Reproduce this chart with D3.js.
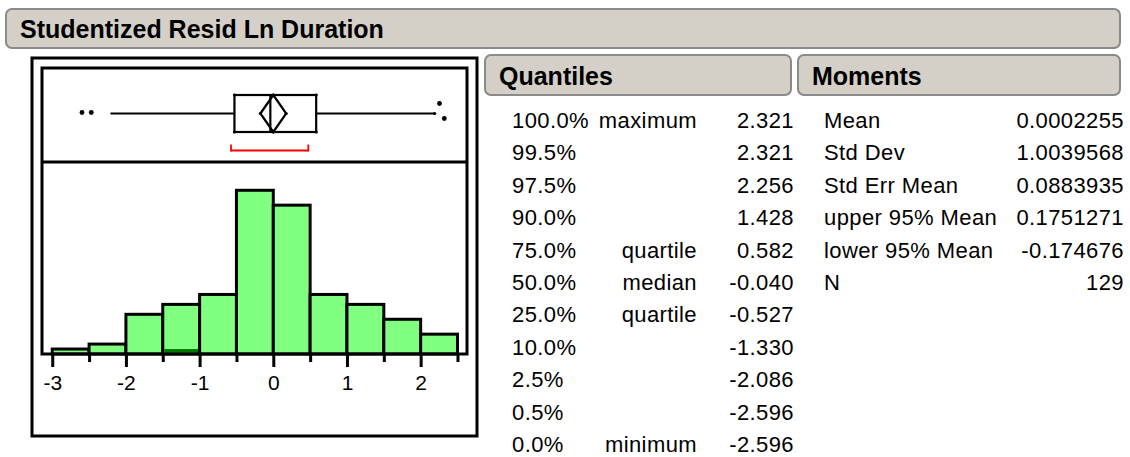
<!DOCTYPE html>
<html>
<head>
<meta charset="utf-8">
<script src="https://cdn.jsdelivr.net/npm/d3@7"></script>
<style>
  body { margin: 0; background: #fff; }
  svg text { font-family: "Liberation Sans", Arial, sans-serif; fill: #000; }
  .hdr { font-weight: bold; font-size: 25px; }
  .row { font-size: 22px; letter-spacing: 0.4px; }
  .axis text { font-size: 21px; }
</style>
</head>
<body>
<div id="chart"></div>
<script>
// histogram bins (left edges, width 0.5) and counts
var binStarts = [-3, -2.5, -2, -1.5, -1, -0.5, 0, 0.5, 1, 1.5, 2];
var binCounts = [1, 2, 8, 10, 12, 33, 30, 12, 10, 7, 4];
var selCounts = [0, 0, 0, 1, 0, 0, 0, 0, 0, 0, 0];
var majorTicks = [-3, -2, -1, 0, 1, 2];
var minorTicks = [-2.5, -1.5, -0.5, 0.5, 1.5, 2.5];

// outlier box plot
var q1 = -0.527, median = -0.040, q3 = 0.582;
var mean = 0.0002255, meanLo = -0.174676, meanHi = 0.1751271;
var whiskerLo = -2.21, whiskerHi = 2.19;
var outliersLo = [-2.596, -2.47];
var outliersHi = [2.256, 2.321];
var shortestHalf = [-0.574, 0.475];

// quantiles table
var qLevels = ["100.0%", "99.5%", "97.5%", "90.0%", "75.0%", "50.0%", "25.0%", "10.0%", "2.5%", "0.5%", "0.0%"];
var qNames = ["maximum", "", "", "", "quartile", "median", "quartile", "", "", "", "minimum"];
var qValues = ["2.321", "2.321", "2.256", "1.428", "0.582", "-0.040", "-0.527", "-1.330", "-2.086", "-2.596", "-2.596"];

// moments table
var mNames = ["Mean", "Std Dev", "Std Err Mean", "upper 95% Mean", "lower 95% Mean", "N"];
var mValues = ["0.0002255", "1.0039568", "0.0883935", "0.1751271", "-0.174676", "129"];

var W = 1130, H = 457;
var svg = d3.select("#chart").append("svg").attr("width", W).attr("height", H);

function header(x, y, w, h, label) {
  svg.append("rect")
    .attr("x", x).attr("y", y).attr("width", w).attr("height", h)
    .attr("rx", 6).attr("ry", 6)
    .attr("fill", "#d4d0c8").attr("stroke", "#8a8a8a").attr("stroke-width", 2);
  svg.append("text").attr("class", "hdr")
    .attr("x", x + 14).attr("y", y + h - 10)
    .text(label);
}

header(6, 9, 1114, 39, "Studentized Resid Ln Duration");
header(485, 55, 306, 40, "Quantiles");
header(798, 55, 322, 40, "Moments");

// plot frames
var inner = {left: 42, right: 467, top: 68, sep: 162, bottom: 354};

svg.append("rect")
  .attr("x", 32).attr("y", 58).attr("width", 445).attr("height", 378)
  .attr("fill", "none").attr("stroke", "#000").attr("stroke-width", 3);

var x = d3.scaleLinear().domain([-3.139, 2.629]).range([inner.left, inner.right]);
var y = d3.scaleLinear().domain([0, 38.7]).range([inner.bottom, inner.sep]);

// histogram bars
var bars = svg.append("g");
bars.selectAll("rect.bar")
  .data(binStarts)
  .enter().append("rect")
  .attr("class", "bar")
  .attr("x", function(d) { return x(d); })
  .attr("width", function(d) { return x(d + 0.5) - x(d); })
  .attr("y", function(d, i) { return y(binCounts[i]); })
  .attr("height", function(d, i) { return y(0) - y(binCounts[i]); })
  .attr("fill", "#80ff80")
  .attr("stroke", "#000")
  .attr("stroke-width", 3);

bars.selectAll("rect.sel")
  .data(binStarts.filter(function(d, i) { return selCounts[i] > 0; }))
  .enter().append("rect")
  .attr("class", "sel")
  .attr("x", function(d) { return x(d) + 1.5; })
  .attr("width", function(d) { return x(d + 0.5) - x(d) - 3; })
  .attr("y", function(d) { return y(selCounts[binStarts.indexOf(d)]); })
  .attr("height", function(d) { return y(0) - y(selCounts[binStarts.indexOf(d)]); })
  .attr("fill", "#007800");

// inner frame + separator
svg.append("rect")
  .attr("x", inner.left).attr("y", inner.top)
  .attr("width", inner.right - inner.left).attr("height", inner.bottom - inner.top)
  .attr("fill", "none").attr("stroke", "#000").attr("stroke-width", 3);
svg.append("line")
  .attr("x1", inner.left).attr("x2", inner.right)
  .attr("y1", inner.sep).attr("y2", inner.sep)
  .attr("stroke", "#000").attr("stroke-width", 3);

// axis
var axMajor = svg.append("g").attr("class", "axis")
  .attr("transform", "translate(0," + inner.bottom + ")")
  .call(d3.axisBottom(x).tickValues(majorTicks).tickSize(13).tickPadding(8).tickFormat(d3.format("d")));
var axMinor = svg.append("g").attr("class", "axis")
  .attr("transform", "translate(0," + inner.bottom + ")")
  .call(d3.axisBottom(x).tickValues(minorTicks).tickSize(8).tickFormat(""));
svg.selectAll(".axis .domain").remove();
svg.selectAll(".axis line").attr("stroke", "#000").attr("stroke-width", 3);
axMajor.selectAll("text").attr("fill", "#000").attr("font-family", null).attr("font-size", null)
  .text(function(d) { return d < 0 ? "-" + Math.abs(d) : d; });

// box plot
var by = {top: 95, mid: 113.5, bot: 132, bracket: 150.5};
var box = svg.append("g").attr("stroke", "#000").attr("stroke-width", 2.2).attr("fill", "none");

box.append("line").attr("x1", x(whiskerLo)).attr("x2", x(q1)).attr("y1", by.mid).attr("y2", by.mid);
box.append("line").attr("x1", x(q3)).attr("x2", x(whiskerHi)).attr("y1", by.mid).attr("y2", by.mid);
box.append("rect").attr("x", x(q1)).attr("y", by.top).attr("width", x(q3) - x(q1)).attr("height", by.bot - by.top);
box.append("line").attr("x1", x(median)).attr("x2", x(median)).attr("y1", by.top).attr("y2", by.bot);
box.append("path")
  .attr("d", "M" + x(meanLo) + "," + by.mid + "L" + x(mean) + "," + by.top +
             "L" + x(meanHi) + "," + by.mid + "L" + x(mean) + "," + by.bot + "Z");

// little corner dots
var dots = [[x(q1), by.top], [x(q3), by.top], [x(q1), by.bot], [x(q3), by.bot],
            [x(meanLo), by.mid], [x(meanHi), by.mid], [x(mean), by.top], [x(mean), by.bot],
            [x(whiskerHi), by.mid]];
svg.append("g").selectAll("circle").data(dots).enter().append("circle")
  .attr("cx", function(d) { return d[0]; }).attr("cy", function(d) { return d[1]; })
  .attr("r", 1.6).attr("fill", "#000");

// outliers, stacked when they crowd
var outl = [];
outliersLo.forEach(function(v) { outl.push({v: v, dy: 0}); });
outliersHi.forEach(function(v, i) {
  var prev = i > 0 ? outliersHi[i - 1] : null;
  outl.push({v: v, dy: prev !== null && x(v) - x(prev) < 6 ? 6 : (i < outliersHi.length - 1 && x(outliersHi[i + 1]) - x(v) < 6 ? -9 : 0)});
});
svg.append("g").selectAll("circle").data(outl).enter().append("circle")
  .attr("cx", function(d) { return x(d.v); })
  .attr("cy", function(d) { return by.mid - 1 + d.dy; })
  .attr("r", 2.4).attr("fill", "#000");

// shortest half bracket
var br = svg.append("g").attr("stroke", "#ff0000").attr("stroke-width", 1.8).attr("fill", "none");
br.append("line").attr("x1", x(shortestHalf[0])).attr("x2", x(shortestHalf[1])).attr("y1", by.bracket).attr("y2", by.bracket);
br.selectAll("line.end").data(shortestHalf).enter().append("line").attr("class", "end")
  .attr("x1", function(d) { return x(d); }).attr("x2", function(d) { return x(d); })
  .attr("y1", by.bracket - 6).attr("y2", by.bracket + 1);

// tables
var rowY = d3.scaleLinear().domain([0, 10]).range([128, 452]);

var qt = svg.append("g").attr("class", "row");
qt.selectAll("text.lv").data(qLevels).enter().append("text").attr("class", "lv")
  .attr("x", 512).attr("y", function(d, i) { return rowY(i); }).text(function(d) { return d; });
qt.selectAll("text.nm").data(qNames).enter().append("text").attr("class", "nm")
  .attr("x", 697).attr("y", function(d, i) { return rowY(i); })
  .attr("text-anchor", "end").text(function(d) { return d; });
qt.selectAll("text.vl").data(qValues).enter().append("text").attr("class", "vl")
  .attr("x", 794).attr("y", function(d, i) { return rowY(i); })
  .attr("text-anchor", "end").text(function(d) { return d; });

var mt = svg.append("g").attr("class", "row");
mt.selectAll("text.nm").data(mNames).enter().append("text").attr("class", "nm")
  .attr("x", 824).attr("y", function(d, i) { return rowY(i); }).text(function(d) { return d; });
mt.selectAll("text.vl").data(mValues).enter().append("text").attr("class", "vl")
  .attr("x", 1124).attr("y", function(d, i) { return rowY(i); })
  .attr("text-anchor", "end").text(function(d) { return d; });
</script>
</body>
</html>
